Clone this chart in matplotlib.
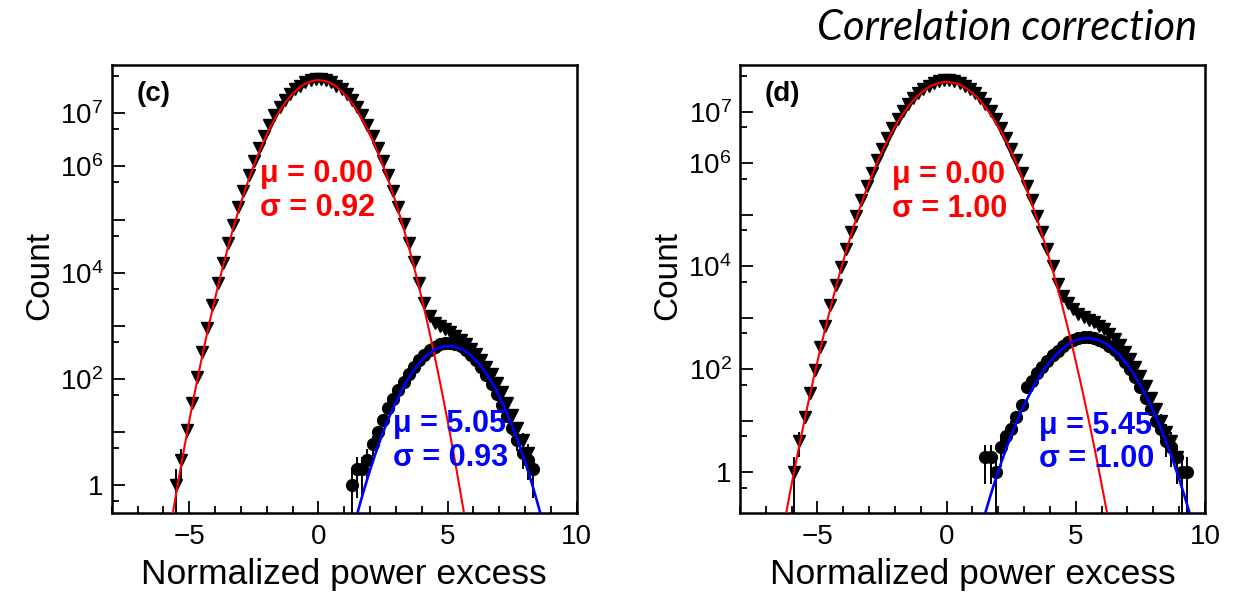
import numpy as np
import matplotlib
matplotlib.use("Agg")
import matplotlib.pyplot as plt
from matplotlib.ticker import FixedLocator, FuncFormatter, MultipleLocator, LogLocator, NullFormatter

plt.rcParams['font.family'] = ['Liberation Sans', 'DejaVu Sans']
plt.rcParams['mathtext.fontset'] = 'custom'
plt.rcParams['mathtext.rm'] = 'Liberation Sans'
plt.rcParams['mathtext.it'] = 'Liberation Sans:italic'
plt.rcParams['mathtext.bf'] = 'Liberation Sans:bold'

# --------------------------------------------------------------------------
# data (histogram bins of width 0.2)
# --------------------------------------------------------------------------
BIN_WIDTH = 0.2

# panel (c): all bins (triangles) and the signal bins (circles)
c_total_start = -5.5
c_total_counts = [
    1, 3, 11, 35, 108, 320, 905, 2440, 6300, 15500, 36100, 80700, 172000,
    349000, 676000, 1250000, 2200000, 3710000, 5940000, 9100000, 13300000,
    17800000, 22900000, 28200000, 33100000, 38000000, 41700000, 43700000,
    43700000, 41700000, 38000000, 33100000, 28200000, 22900000, 17800000,
    13300000, 9100000, 5940000, 3710000, 2200000, 1250000, 676000, 349000,
    172000, 80800, 36200, 15700, 6500, 2700, 1500, 1150, 1000, 870, 750, 640,
    540, 450, 365, 290, 225, 170, 122, 85, 56, 35, 21, 12, 7, 4,
]
c_signal_start = 1.3
c_signal_counts = [
    1, 2, 2, 3, 6, 10, 17, 28, 42, 63, 89, 126, 170, 224, 282, 347, 398, 447,
    479, 479, 457, 417, 355, 288, 224, 166, 117, 79, 52, 33, 20, 12, 7, 4, 3, 2,
]
# fits: amplitude, mean, sigma
c_noise_fit = [4.2e7, 0.00, 0.92]
c_signal_fit = [420, 5.05, 0.93]
c_noise_label = "μ = 0.00\nσ = 0.92"
c_signal_label = "μ = 5.05\nσ = 0.93"

# panel (d)
d_total_start = -5.9
d_total_counts = [
    1, 4, 12, 35, 98, 267, 698, 1750, 4230, 9800, 21800, 46600, 95700, 189000,
    358000, 652000, 1140000, 1920000, 3100000, 4820000, 7180000, 10300000,
    14200000, 18300000, 22800000, 27200000, 31900000, 36000000, 38900000,
    40600000, 40600000, 38900000, 36000000, 31900000, 27200000, 22800000,
    18300000, 14200000, 10300000, 7180000, 4820000, 3100000, 1920000, 1140000,
    652000, 358000, 189000, 95800, 46700, 22000, 10000, 4600, 2600, 1900, 1450,
    1200, 1050, 920, 810, 700, 590, 480, 380, 290, 215, 155, 108, 72, 46, 28,
    17, 10, 6, 4, 2,
]
d_signal_start = 1.5
d_signal_counts = [
    2, 2, 1, 3, 5, 7, 12, 20, 45, 60, 85, 110, 145, 185, 230, 280, 330, 370,
    400, 420, 415, 400, 370, 330, 285, 235, 185, 140, 100, 70, 45, 28, 17, 10,
    7, 4, 3, 2, 1, 1,
]
d_noise_fit = [3.8e7, 0.00, 1.00]
d_signal_fit = [400, 5.45, 1.00]
d_noise_label = "μ = 0.00\nσ = 1.00"
d_signal_label = "μ = 5.45\nσ = 1.00"

LABELED_EXP = {0: "1", 2: r"$10^{2}$", 4: r"$10^{4}$", 6: r"$10^{6}$", 7: r"$10^{7}$"}


def bin_centers(start, counts):
    return start + BIN_WIDTH * np.arange(len(counts))


def gauss(x, p):
    amp, mu, sig = p
    return amp * np.exp(-0.5 * ((x - mu) / sig) ** 2)


def draw_hist(ax, start, counts, marker):
    y = np.asarray(counts, float)
    x = bin_centers(start, counts)
    err = np.sqrt(y)
    lo = np.minimum(err, y * 0.999)
    ax.errorbar(x, y, yerr=[lo, err], fmt=marker, color="black", ms=8.5,
                elinewidth=1.4, capsize=0, zorder=2)


def ylabel_fmt(v, pos):
    e = int(round(np.log10(v)))
    return LABELED_EXP.get(e, "")


def draw_panel(ax, tag, tot_start, tot, sig_start, sig, nfit, sfit, nlab, slab,
               ylim, npos, spos):
    draw_hist(ax, tot_start, tot, "v")
    draw_hist(ax, sig_start, sig, "o")
    xs = np.linspace(-8, 10, 800)
    ax.plot(xs, gauss(xs, nfit), color="red", lw=1.5, zorder=3)
    ax.plot(xs, gauss(xs, sfit), color="blue", lw=1.9, zorder=3)

    ax.set_yscale("log")
    ax.set_xlim(-8, 10)
    ax.set_ylim(*ylim)

    ax.xaxis.set_major_locator(FixedLocator([-5, 0, 5, 10]))
    ax.xaxis.set_minor_locator(MultipleLocator(1))
    ax.yaxis.set_major_locator(FixedLocator(10.0 ** np.arange(0, 9)))
    ax.yaxis.set_major_formatter(FuncFormatter(ylabel_fmt))
    ax.yaxis.set_minor_locator(LogLocator(base=10, subs=(5.0,)))
    ax.yaxis.set_minor_formatter(NullFormatter())

    ax.tick_params(which="both", direction="in", top=False, right=False,
                   width=1.3, labelsize=20)
    ax.tick_params(which="major", length=9)
    ax.tick_params(which="minor", length=5)
    ax.tick_params(axis="y", pad=6)
    ax.tick_params(axis="x", pad=8)
    for s in ax.spines.values():
        s.set_linewidth(1.8)

    ax.set_xlabel("Normalized power excess", fontsize=25.5)
    ax.set_ylabel("Count", fontsize=24)
    ax.xaxis.set_label_coords(0.5, -0.1)
    ax.yaxis.set_label_coords(-0.122, 0.53)

    ax.text(0.053, 0.935, tag, transform=ax.transAxes, fontsize=20,
            fontweight="bold", ha="left", va="center")
    ax.text(npos[0], npos[1], nlab, transform=ax.transAxes, color="red",
            fontsize=22, fontweight="bold", ha="left", va="center",
            linespacing=1.15)
    ax.text(spos[0], spos[1], slab, transform=ax.transAxes, color="blue",
            fontsize=22, fontweight="bold", ha="left", va="center",
            linespacing=1.15)


fig = plt.figure(figsize=(12.43, 5.95), dpi=100)
ax_c = fig.add_axes([0.0899, 0.1378, 0.3741, 0.7529])
ax_d = fig.add_axes([0.5953, 0.1378, 0.3741, 0.7529])

draw_panel(ax_c, "(c)", c_total_start, c_total_counts, c_signal_start,
           c_signal_counts, c_noise_fit, c_signal_fit, c_noise_label,
           c_signal_label, (0.3, 8.1e7), (0.319, 0.719), (0.605, 0.161))
draw_panel(ax_d, "(d)", d_total_start, d_total_counts, d_signal_start,
           d_signal_counts, d_noise_fit, d_signal_fit, d_noise_label,
           d_signal_label, (0.16, 8.1e7), (0.327, 0.717), (0.644, 0.158))

fig.text(0.963, 0.953, "Correlation correction", ha="right", va="center",
         style="italic", fontsize=30, family=["Lato", "DejaVu Sans"])

fig.savefig("out.png", dpi=100)
